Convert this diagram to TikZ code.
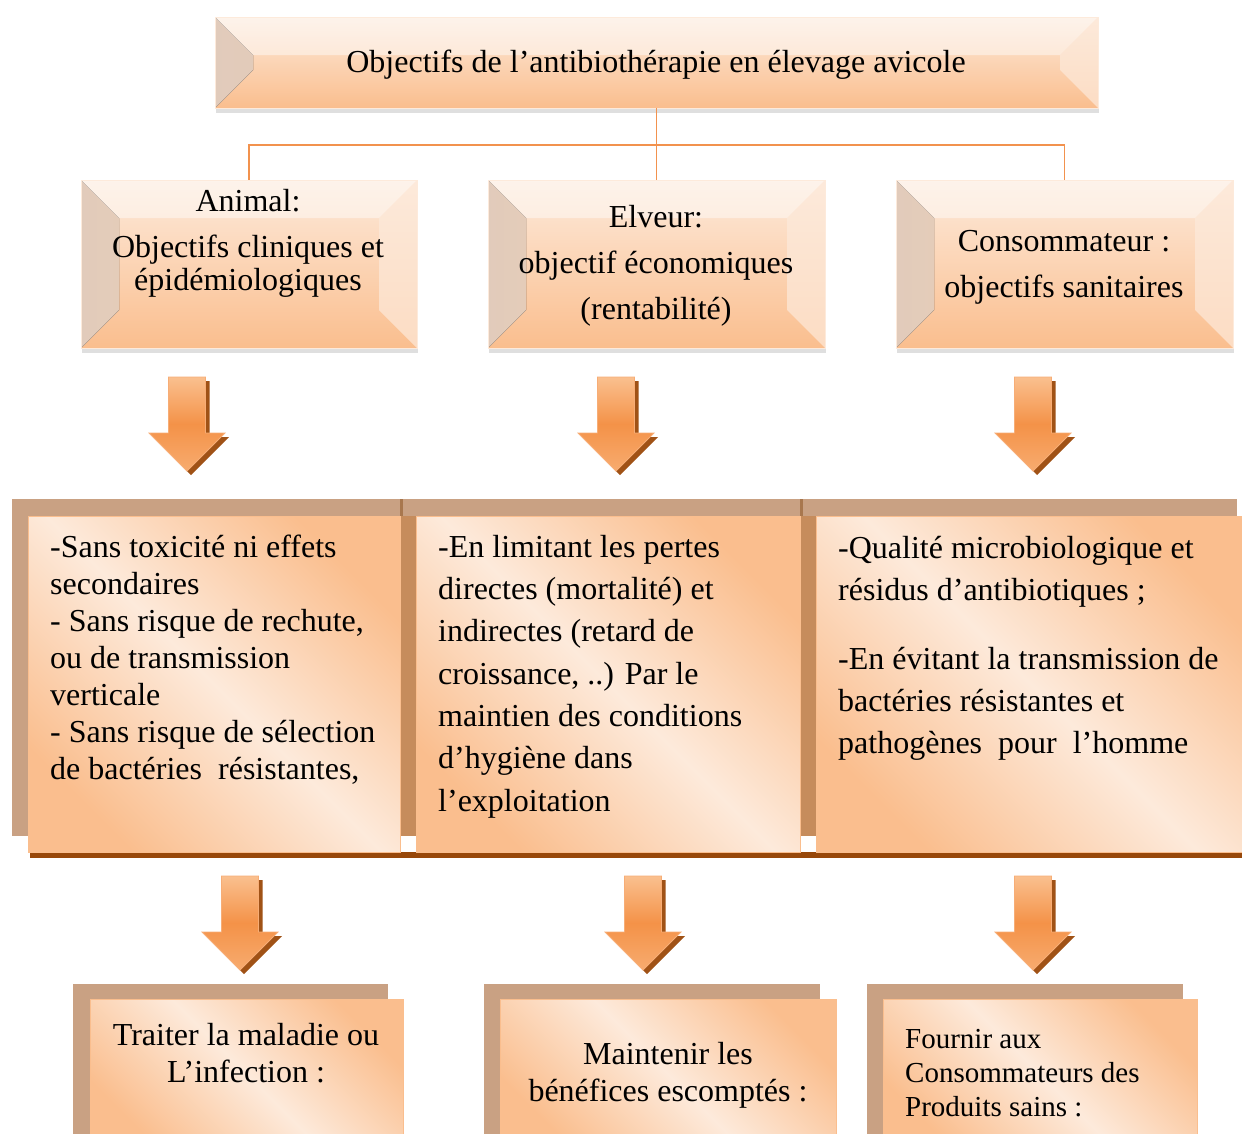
\documentclass[tikz,border=0pt]{standalone}
\usepackage{fontspec}
\setmainfont{Liberation Serif}
\usetikzlibrary{shadows}

\definecolor{peachlight}{RGB}{253,234,219}
\definecolor{peach}{RGB}{250,190,142}
\definecolor{linkorange}{RGB}{242,146,78}
\definecolor{tanback}{RGB}{201,161,131}
\definecolor{tandark}{RGB}{198,140,92}
\definecolor{rustline}{RGB}{152,72,10}
\definecolor{arrowtop}{RGB}{250,192,143}
\definecolor{arrowmid}{RGB}{244,146,72}
\definecolor{arrowshade}{RGB}{160,82,22}

\tikzset{
  topbox/.style={rectangle, inner sep=0pt, draw=peachlight, top color=peachlight, bottom color=peach,
    drop shadow={shadow xshift=1pt, shadow yshift=-5pt, opacity=0.25},
    path picture={
      \fill[left color=tanback!55!white, right color=peach!60!peachlight]
        (path picture bounding box.north west) -- ++(38,38) -- ([shift={(38,-38)}]path picture bounding box.south west) -- (path picture bounding box.south west) -- cycle;
      \fill[white, opacity=0.45]
        (path picture bounding box.north west) -- ++(38,38) -- ([shift={(-38,38)}]path picture bounding box.north east) -- (path picture bounding box.north east) -- cycle;
      \fill[peachlight, opacity=0.7]
        (path picture bounding box.north east) -- ++(-38,38) -- ([shift={(-38,-38)}]path picture bounding box.south east) -- (path picture bounding box.south east) -- cycle;
    }},
  frontbox/.style={rectangle, inner sep=0pt, anchor=north west, draw=peach, line width=1pt,
    top color=peach, bottom color=peach, middle color=peachlight, shading angle=-45},
  link/.style={linkorange, line width=1.5pt},
  txt/.style={inner sep=0pt, font=\fontsize{32}{37}\selectfont},
  blockarrow/.style={top color=arrowtop, bottom color=arrowtop!55!arrowmid, middle color=arrowmid,
    draw=arrowmid!75!white, line width=0.8pt}
}

\begin{document}
\begin{tikzpicture}[x=1pt, y=-1pt]
  \useasboundingbox (0,0) rectangle (1242,1133);
  \clip (0,0) rectangle (1242,1133);

  % top row
  \node[topbox, minimum width=883pt, minimum height=91pt] (title) at (656.5,62.5) {};
  \node[topbox, minimum width=336pt, minimum height=168pt] (animal) at (249,264) {};
  \node[topbox, minimum width=337pt, minimum height=168pt] (eleveur) at (656.5,264) {};
  \node[topbox, minimum width=337pt, minimum height=168pt] (conso) at (1064.5,264) {};

  \draw[link] (title.south) -- (eleveur.north);
  \draw[link] (animal.north) -- ++(0,-35) -| (conso.north);

  % text nodes, placed at the baseline of their last line
  \node[txt, anchor=base] (titletxt) at (656,72) {Objectifs de l’antibiothérapie en élevage avicole};
  \node[txt, anchor=base, align=center, font=\fontsize{32}{33}\selectfont] (animaltxt) at (248,290)
    {Animal:\\[13pt]Objectifs cliniques et\\épidémiologiques};
  \node[txt, anchor=base, align=center, font=\fontsize{32}{46}\selectfont] (eleveurtxt) at (656,319)
    {Elveur:\\objectif économiques\\(rentabilité)};
  \node[txt, anchor=base, align=center, font=\fontsize{32}{46}\selectfont] (consotxt) at (1064,297)
    {Consommateur :\\objectifs sanitaires};

  % block arrows
  \foreach \ax/\ay in {187/377, 616/377, 1033/377, 240/876, 643/876, 1033/876}{
    \begin{scope}[shift={(\ax,\ay)}]
      \fill[arrowshade] (-14.5,4) -- (22.5,4) -- (22.5,60) -- (42,60) -- (4,98) -- (-34,60) -- (-14.5,60) -- cycle;
      \path[blockarrow] (-18.5,0) -- (18.5,0) -- (18.5,56) -- (38,56) -- (0,94) -- (-38,56) -- (-18.5,56) -- cycle;
    \end{scope}
  }

  % middle row
  \fill[tanback] (12,499) rectangle (1237,836);
  \fill[tandark] (400,516) rectangle (416,836);
  \fill[tandark] (800,516) rectangle (816,836);
  \fill[tandark!85!black] (400,499) rectangle (403,516);
  \fill[tandark!85!black] (800,499) rectangle (803,516);
  \fill[rustline] (30,852) rectangle (1242,858);
  \node[frontbox, minimum width=372pt, minimum height=336pt] (clinique) at (28,516) {};
  \node[frontbox, minimum width=384pt, minimum height=336pt] (econ) at (416,516) {};
  \node[frontbox, minimum width=430pt, minimum height=336pt] (sanit) at (816,516) {};

  \node[txt, anchor=base west, align=left] (cliniquetxt) at (50,779)
    {-Sans toxicité ni effets\\secondaires\\- Sans risque de rechute,\\ou de transmission\\verticale\\- Sans risque de sélection\\de bactéries\ \ résistantes,};
  \node[txt, anchor=base west, align=left, font=\fontsize{32}{42.3}\selectfont] (econtxt) at (438,811)
    {-En limitant les pertes\\directes (mortalité) et\\indirectes (retard de\\croissance, ..) Par le\\maintien des conditions\\d’hygiène dans\\l’exploitation};
  \node[txt, anchor=base west, align=left, font=\fontsize{32}{42}\selectfont] (sanittxt) at (838,753)
    {-Qualité microbiologique et\\résidus d’antibiotiques ;\\[27pt]-En évitant la transmission de\\bactéries résistantes et\\pathogènes\ \ pour\ \ l’homme};

  % bottom row
  \fill[tanback] (73,984) rectangle (388,1140);
  \fill[tanback] (484,984) rectangle (820,1140);
  \fill[tanback] (867,984) rectangle (1183,1140);
  \node[frontbox, minimum width=313pt, minimum height=150pt] (traiter) at (90,999) {};
  \node[frontbox, minimum width=336pt, minimum height=150pt] (maintenir) at (500,999) {};
  \node[frontbox, minimum width=314pt, minimum height=150pt] (fournir) at (883,999) {};

  \node[txt, anchor=base, align=center] (traitertxt) at (246,1082)
    {Traiter la maladie ou\\L’infection :};
  \node[txt, anchor=base, align=center] (maintenirtxt) at (668,1101)
    {Maintenir les\\bénéfices escomptés :};
  \node[txt, anchor=base west, align=left, font=\fontsize{29}{34}\selectfont] (fournirtxt) at (905,1116)
    {Fournir aux\\Consommateurs des\\Produits sains :};
\end{tikzpicture}
\end{document}
